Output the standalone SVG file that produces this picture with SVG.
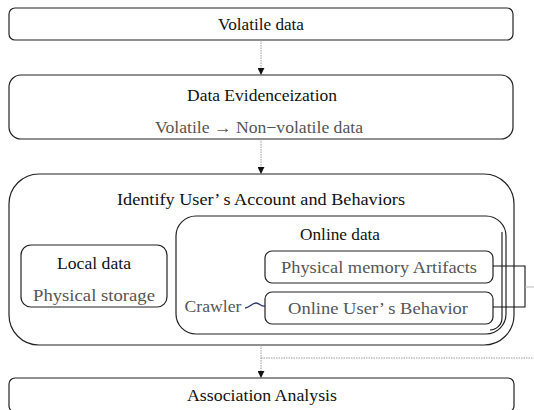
<svg xmlns="http://www.w3.org/2000/svg" width="534" height="410" viewBox="0 0 534 410">
  <style>
    .box { fill: #fff; stroke: #222; stroke-width: 1.2; }
    .t { font-family: "Liberation Serif", "Times New Roman", serif; font-size: 16.5px; fill: #111; text-anchor: middle; }
    .g { fill: #555; }
    .flow { stroke: #9a9a9a; stroke-width: 1; stroke-dasharray: 1.5 1; fill: none; }
    .link { stroke: #111; stroke-width: 1.1; fill: none; }
  </style>
  <defs>
    <marker id="tri" viewBox="0 0 8 8" refX="7" refY="4" markerWidth="7" markerHeight="7" orient="auto" markerUnits="userSpaceOnUse">
      <path d="M0,0 L8,4 L0,8 Z" fill="#111"/>
    </marker>
  </defs>
  <rect width="534" height="410" fill="#fff"/>

  <g id="volatile">
    <rect class="box" x="9" y="8" width="504" height="32" rx="6"/>
    <text class="t" x="261" y="30" textLength="86" lengthAdjust="spacingAndGlyphs">Volatile data</text>
  </g>

  <g id="evidenceization">
    <rect class="box" x="9" y="75" width="504" height="64" rx="12"/>
    <text class="t" x="262" y="101" textLength="150" lengthAdjust="spacingAndGlyphs">Data Evidenceization</text>
    <text class="t g" x="259" y="133" textLength="208" lengthAdjust="spacingAndGlyphs">Volatile → Non−volatile data</text>
  </g>

  <g id="identify">
    <rect class="box" x="9" y="174" width="505" height="171" rx="30"/>
    <text class="t" x="261" y="205" textLength="288" lengthAdjust="spacingAndGlyphs">Identify User’ s Account and Behaviors</text>
  </g>

  <g id="local">
    <rect class="box" x="21" y="245" width="146" height="62" rx="10"/>
    <text class="t" x="94" y="269" textLength="74" lengthAdjust="spacingAndGlyphs">Local data</text>
    <text class="t g" x="94" y="301" textLength="122" lengthAdjust="spacingAndGlyphs">Physical storage</text>
  </g>

  <g id="online">
    <rect class="box" x="176" y="216" width="330" height="118" rx="20"/>
    <path class="link" d="M502,232 V318 A12,12 0 0 1 490,330"/>
    <text class="t" x="340" y="240" textLength="80" lengthAdjust="spacingAndGlyphs">Online data</text>
  </g>

  <g id="artifacts">
    <rect class="box" x="265" y="251" width="228" height="32" rx="7"/>
    <text class="t g" x="379" y="273" textLength="196" lengthAdjust="spacingAndGlyphs">Physical memory Artifacts</text>
  </g>

  <g id="behavior">
    <rect class="box" x="265" y="292" width="228" height="32" rx="7"/>
    <text class="t g" x="378" y="314" textLength="180" lengthAdjust="spacingAndGlyphs">Online User’ s Behavior</text>
  </g>

  <g id="crawler">
    <text class="t g" x="213" y="312" textLength="57" lengthAdjust="spacingAndGlyphs">Crawler</text>
    <path d="M245,308 C249,308 252,303 256,303 C260,303 261,307 265,306" fill="none" stroke="#2a3a6a" stroke-width="1.3"/>
  </g>

  <g id="association">
    <rect class="box" x="9" y="378" width="505" height="34" rx="6"/>
    <text class="t" x="262" y="401" textLength="150" lengthAdjust="spacingAndGlyphs">Association Analysis</text>
  </g>

  <g id="connectors">
    <line class="flow" x1="261" y1="40" x2="261" y2="74" marker-end="url(#tri)"/>
    <line class="flow" x1="261" y1="139" x2="261" y2="173" marker-end="url(#tri)"/>
    <line class="flow" x1="261" y1="345" x2="261" y2="377" marker-end="url(#tri)"/>
    <line class="flow" x1="261" y1="358" x2="534" y2="358"/>
    <path class="link" d="M493,266 H525 V307 H493"/>
    <line x1="525" y1="287" x2="534" y2="287" stroke="#bbb" stroke-width="1"/>
  </g>
</svg>
